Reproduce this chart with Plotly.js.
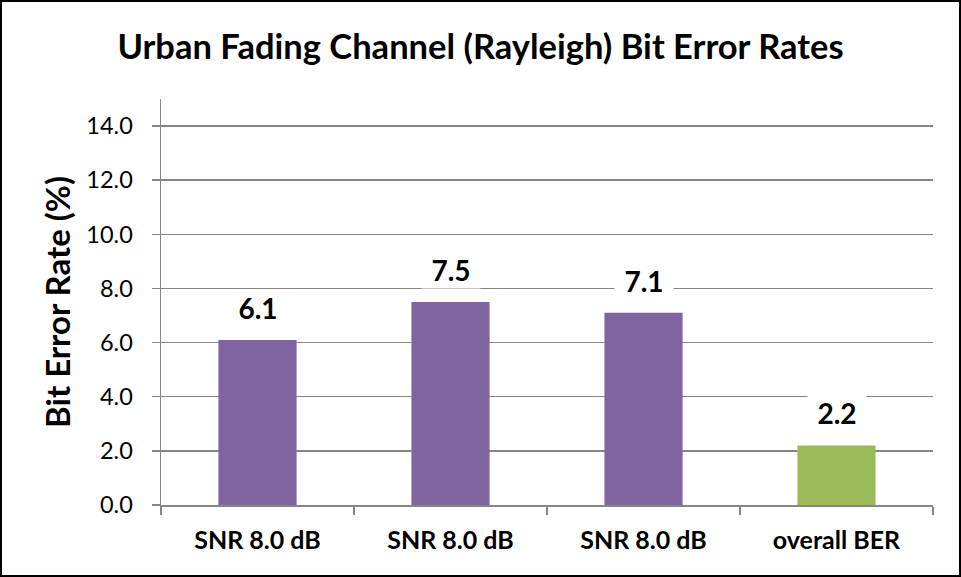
<!DOCTYPE html>
<html>
<head>
<meta charset="utf-8">
<script src="https://cdn.plot.ly/plotly-3.0.1.min.js"></script>
<style>
  html, body { margin: 0; padding: 0; background: #fff; }
  #chart { width: 957px; height: 573px; border: 2px solid #000; }
</style>
</head>
<body>
<div id="chart"></div>
<script>
const categories = ["SNR 8.0 dB", "SNR 8.0 dB", "SNR 8.0 dB", "overall BER"];
const berValues = [6.1, 7.5, 7.1, 2.2];
const barColors = ["#8064A2", "#8064A2", "#8064A2", "#9BBB59"];
const yTickVals = [0, 2, 4, 6, 8, 10, 12, 14];
const yTickText = ["0.0", "2.0", "4.0", "6.0", "8.0", "10.0", "12.0", "14.0"];

const positions = categories.map((c, i) => i);
const boundaries = [-0.5].concat(positions.map(p => p + 0.5));
const FONT = "Lato, 'Open Sans', sans-serif";

const trace = {
  type: "bar",
  x: positions,
  y: berValues,
  marker: { color: barColors },
  width: 0.405,
  hoverinfo: "y"
};

const annotations = positions.map((p, i) => ({
  x: p,
  y: berValues[i],
  xref: "x",
  yref: "y",
  text: "<b>" + berValues[i].toFixed(1) + "</b>",
  showarrow: false,
  yanchor: "bottom",
  yshift: 13,
  bgcolor: "#ffffff",
  borderpad: 1,
  width: 56,
  font: { family: FONT, size: 28, color: "#000" }
}));

const layout = {
  width: 957,
  height: 573,
  margin: { l: 159, r: 26, t: 97, b: 70 },
  paper_bgcolor: "#fff",
  plot_bgcolor: "#fff",
  showlegend: false,
  title: {
    text: "<b>Urban Fading Channel (Rayleigh) Bit Error Rates</b>",
    font: { family: FONT, size: 34.5, color: "#000" },
    x: 0.5,
    xanchor: "center",
    y: 0.922,
    yanchor: "middle"
  },
  xaxis: {
    range: [-0.5, 3.5],
    tickmode: "array",
    tickvals: positions,
    ticktext: categories.map(c => "<b>" + c + "</b>"),
    ticks: "",
    showgrid: false,
    zeroline: false,
    showline: true,
    linecolor: "#868686",
    linewidth: 1.5,
    tickfont: { family: FONT, size: 25, color: "#000" },
    ticklabelstandoff: 12,
    minor: {
      tickmode: "array",
      tickvals: boundaries,
      ticks: "outside",
      ticklen: 8,
      tickwidth: 1.5,
      tickcolor: "#868686",
      showgrid: false
    },
    fixedrange: true
  },
  yaxis: {
    range: [0, 15],
    tickmode: "array",
    tickvals: yTickVals,
    ticktext: yTickText,
    ticks: "outside",
    ticklen: 8,
    tickwidth: 1.5,
    tickcolor: "#868686",
    showgrid: true,
    gridcolor: "#868686",
    gridwidth: 1.5,
    zeroline: false,
    showline: true,
    linecolor: "#868686",
    linewidth: 1.5,
    tickfont: { family: FONT, size: 23.5, color: "#000" },
    ticklabelstandoff: 14,
    title: {
      text: "<b>Bit Error Rate (%)</b>",
      font: { family: FONT, size: 33, color: "#000" },
      standoff: 6
    },
    fixedrange: true
  },
  annotations: annotations
};

Plotly.newPlot("chart", [trace], layout, { displayModeBar: false, staticPlot: true });
</script>
</body>
</html>
